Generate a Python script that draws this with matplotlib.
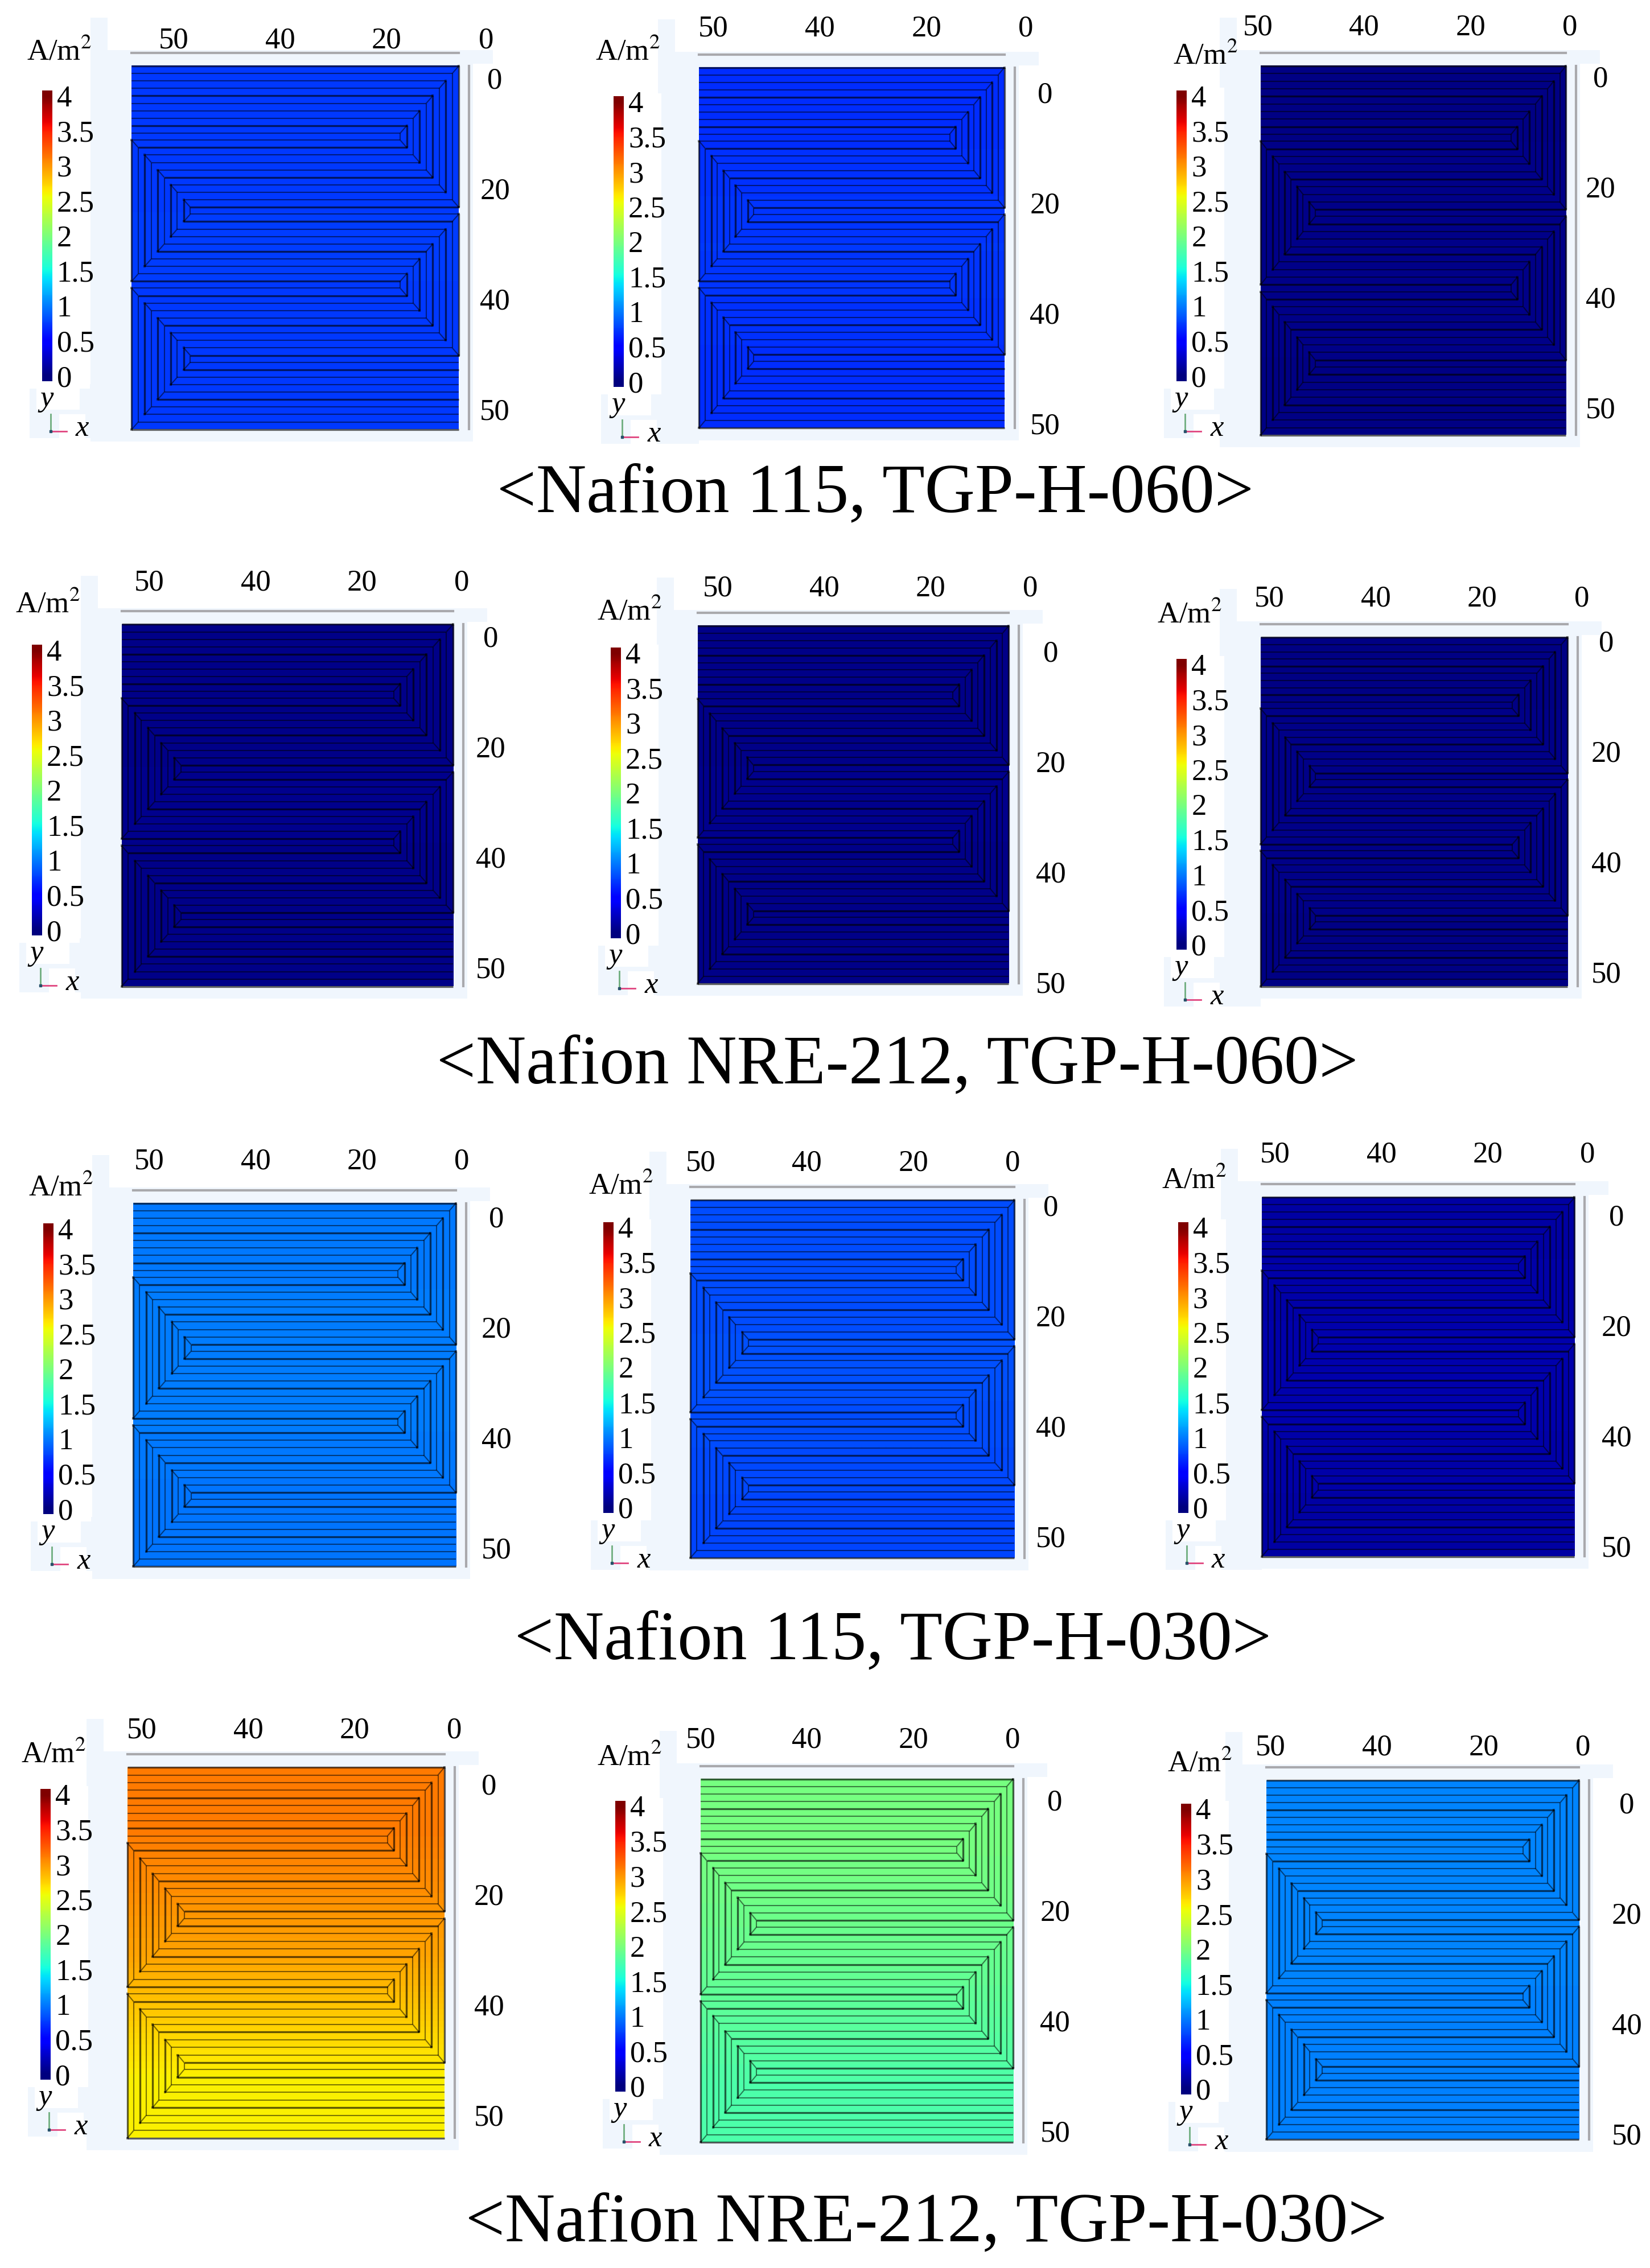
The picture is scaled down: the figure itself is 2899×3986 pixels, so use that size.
import numpy as np
import matplotlib
matplotlib.use('Agg')
import matplotlib.pyplot as plt
from matplotlib.patches import Rectangle

plt.rcParams['font.family'] = ['Liberation Serif', 'DejaVu Serif']

W, H = 2899, 3987
S = H / 1568  # las posiciones se leyeron en la imagen reducida

titles = ['<Nafion 115, TGP-H-060>', '<Nafion NRE-212, TGP-H-060>',
          '<Nafion 115, TGP-H-030>', '<Nafion NRE-212, TGP-H-030>']
x_tick_labels = ['50', '40', '20', '0']
y_tick_labels = ['0', '20', '40', '50']
cbar_values = [0, 0.5, 1, 1.5, 2, 2.5, 3, 3.5, 4]
cbar_labels = ['0', '0.5', '1', '1.5', '2', '2.5', '3', '3.5', '4']

# densidad de corriente (A/m2) arriba, centro y abajo de cada placa
density = [
    [[0.72, 0.74, 0.72], [0.68, 0.72, 0.68], [0.03, 0.04, 0.03]],
    [[0.04, 0.05, 0.04], [0.04, 0.05, 0.04], [0.03, 0.04, 0.03]],
    [[0.98, 1.00, 0.96], [0.80, 0.82, 0.78], [0.14, 0.17, 0.14]],
    [[3.12, 2.95, 2.62], [1.98, 1.90, 1.78], [1.02, 1.02, 1.00]],
]

# placa: izq, der, arriba, abajo
plates = [
    [(91, 317, 46, 297), (483, 694, 47, 296), (871, 1082, 46, 301)],
    [(84, 313, 432, 682), (482, 697, 433, 680), (871, 1083, 441, 682)],
    [(92, 315, 832, 1083), (477, 701, 830, 1077), (872, 1088, 828, 1076)],
    [(88, 307, 1222, 1478), (484, 700, 1230, 1481), (875, 1091, 1231, 1479)],
]
# etiquetas: x del "50", y superior, x derecha, y del "0"
tick_pos = [
    [(120, 28, 342, 56), (493, 20, 722, 66), (869, 19, 1106, 55)],
    [(103, 403, 339, 442), (496, 407, 726, 452), (877, 414, 1110, 445)],
    [(103, 803, 343, 843), (484, 804, 726, 835), (881, 798, 1117, 842)],
    [(98, 1196, 338, 1235), (484, 1203, 729, 1246), (878, 1208, 1124, 1248)],
]
# barra de color: izq, arriba; unidad: x, y
cbars = [
    [(29, 63, 41, 36), (424, 67, 434, 36), (813, 63, 833, 39)],
    [(22, 446, 33, 418), (422, 448, 435, 423), (813, 456, 822, 425)],
    [(30, 846, 42, 821), (417, 845, 429, 820), (814, 845, 825, 816)],
    [(28, 1237, 37, 1213), (425, 1245, 435, 1215), (816, 1247, 829, 1219)],
]
title_pos = [(605, 342), (620, 737), (617, 1135), (640, 1537)]

N_LEVELS = 10
BG = '#f0f6fd'
FS = 38


def draw_channels(ax, box):
    """Canales serpentina: cuatro bloques en U anidados"""
    left, right, top, bottom = [v * S for v in box]
    pw, ph = right - left, bottom - top
    px = 18 / 904
    py = 24 / 1167
    h0 = 11 / 1167
    spacing = 2 * h0 + 9 * py
    centres = [h0 + 9 * py + k * spacing for k in range(4)]

    def xn(k, n):
        # los bloques pares abren a la izquierda, los impares a la derecha
        return (1 - 9 * px + n * px) if k % 2 == 0 else (9 * px - n * px)

    def seg(xs, ys, strong=False):
        ax.plot(left + np.array(xs) * pw, top + np.array(ys) * ph, color='black',
                lw=2.4 if strong else 1.5, alpha=0.62 if strong else 0.5,
                solid_capstyle='butt', zorder=3)

    for k, c in enumerate(centres):
        for n in range(N_LEVELS):
            h = h0 + n * py
            seg([xn(k, n), xn(k, n)], [c - h, c + h], strong=n % 2 == 1)
            if k < 3:
                seg([xn(k, n), xn(k + 1, 9 - n)], [c + h, c + h], strong=n % 4 == 1)
            if k == 0:
                seg([0, xn(k, n)], [c - h, c - h], strong=n % 4 == 1)
            if k == 3:
                seg([xn(k, n), 1], [c + h, c + h], strong=n % 4 == 1)
            if n % 2 == 1:
                # nervio: diagonal solo del nivel impar al par interior
                hi = h - py
                seg([xn(k, n), xn(k, n - 1)], [c - h, c - hi])
                seg([xn(k, n), xn(k, n - 1)], [c + h, c + hi])
                ax.plot(left + np.array([xn(k, n)] * 2) * pw,
                        top + np.array([c - h, c + h]) * ph, 's', color='black',
                        alpha=0.5, ms=2.6, mew=0, zorder=3)


def draw_panel(ax, r, c):
    left, right, top, bottom = [v * S for v in plates[r][c]]
    pw, ph = right - left, bottom - top
    x0, y_top, x_right, y0 = [v * S for v in tick_pos[r][c]]
    bar_x, bar_y, unit_x, unit_y = [v * S for v in cbars[r][c]]
    bar_w, bar_h = 18, 511

    # fondo celeste de la captura y parches blancos
    ax.add_patch(Rectangle((left - 72, top - 28), pw + 97, ph + 50, color=BG, lw=0))
    ax.add_patch(Rectangle((right + 25, top - 28), 35, 24, color=BG, lw=0))
    ax.add_patch(Rectangle((bar_x - 22, bar_y + bar_h + 5), left - bar_x + 22, 95, color=BG, lw=0))
    ax.add_patch(Rectangle((left - 72, top - 85), 30, 60, color=BG, lw=0))
    ax.add_patch(Rectangle((bar_x - 22, bar_y - 5), 106, bar_h + 18, color='white', lw=0))
    ax.add_patch(Rectangle((bar_x - 10, bar_y + bar_h + 12), 76, 38, color='white', lw=0))
    ax.add_patch(Rectangle((bar_x + 30, bar_y + bar_h + 58), 46, 44, color='white', lw=0))

    field = np.array(density[r][c]).reshape(3, 1)
    ax.imshow(field, cmap='jet', vmin=0, vmax=4, aspect='auto', interpolation='bilinear',
              extent=(left, right, bottom, top), zorder=2)
    draw_channels(ax, plates[r][c])

    # ejes grises
    ax.plot([left, right], [top - 23, top - 23], color='#a9a9ad', lw=3, zorder=3)
    ax.plot([right + 18, right + 18], [top, bottom], color='#a9a9ad', lw=3, zorder=3)
    for i, lab in enumerate(x_tick_labels):
        ax.text(x0 + i * 187 if i < 3 else x0 + 549, y_top, lab, fontsize=FS,
                ha='center', va='center', zorder=4)
    for i, lab in enumerate(y_tick_labels):
        ax.text(x_right, y0 + i * 194, lab, fontsize=FS, ha='center', va='center', zorder=4)

    # barra de color
    vals = np.linspace(4.07, -0.08, 256).reshape(-1, 1)
    ax.imshow(vals, cmap='jet', vmin=0, vmax=4, aspect='auto',
              extent=(bar_x, bar_x + bar_w, bar_y + bar_h, bar_y), zorder=2)
    for v, lab in zip(cbar_values, cbar_labels):
        yy = bar_y + bar_h * (4.07 - v) / 4.15 + 5
        ax.text(bar_x + bar_w + 8, yy, lab, fontsize=FS, ha='left', va='center', zorder=4)
    ax.text(unit_x, unit_y, 'A/m$^{2}$', fontsize=FS, ha='center', va='center', zorder=4,
            math_fontfamily='stix')

    # triada de ejes
    tx, ty = bar_x + 15, bar_y + bar_h + 88
    ax.plot([tx, tx], [ty - 30, ty], color='#6fae7f', lw=2, zorder=4)
    ax.plot([tx, tx + 28], [ty, ty], color='#e0457f', lw=2, zorder=4)
    ax.plot([tx], [ty], 's', color='#27506a', ms=3, zorder=5)
    ax.text(bar_x + 8, bar_y + bar_h + 30, 'y', fontsize=FS, style='italic', ha='center', va='center', zorder=4)
    ax.text(tx + 56, ty - 6, 'x', fontsize=FS, style='italic', ha='center', va='center', zorder=4)


def main():
    fig = plt.figure(figsize=(W / 100, H / 100), dpi=100)
    ax = fig.add_axes([0, 0, 1, 1])
    for r in range(4):
        for c in range(3):
            draw_panel(ax, r, c)
        ax.text(title_pos[r][0] * S, title_pos[r][1] * S, titles[r], fontsize=88,
                ha='center', va='center', zorder=4)
    ax.set_xlim(0, W)
    ax.set_ylim(H, 0)
    ax.axis('off')
    fig.savefig('out.png', dpi=100, facecolor='white')


if __name__ == '__main__':
    main()
